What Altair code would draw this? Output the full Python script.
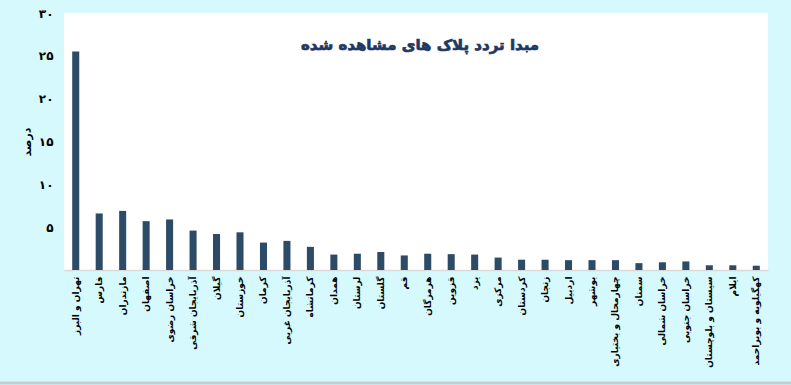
import altair as alt
import pandas as pd

provinces = [
    "تهران و البرز", "فارس", "مازندران", "اصفهان", "خراسان رضوی",
    "آذربایجان شرقی", "گیلان", "خوزستان", "کرمان", "آذربایجان غربی",
    "کرمانشاه", "همدان", "لرستان", "گلستان", "قم",
    "هرمزگان", "قزوین", "یزد", "مرکزی", "کردستان",
    "زنجان", "اردبیل", "بوشهر", "چهارمحال و بختیاری", "سمنان",
    "خراسان شمالی", "خراسان جنوبی", "سیستان و بلوچستان", "ایلام", "کهگیلویه و بویراحمد",
]
values = [
    25.5, 6.6, 6.9, 5.7, 5.9,
    4.6, 4.2, 4.4, 3.2, 3.4,
    2.7, 1.8, 1.9, 2.1, 1.7,
    1.9, 1.85, 1.8, 1.45, 1.2,
    1.2, 1.15, 1.15, 1.15, 0.8,
    0.9, 1.0, 0.55, 0.55, 0.5,
]
y_ticks = [0, 5, 10, 15, 20, 25, 30]
y_tick_labels = ["", "۵", "۱۰", "۱۵", "۲۰", "۲۵", "۳۰"]
title_text = "مبدا تردد پلاک های مشاهده شده"
y_title = "درصد"

df = pd.DataFrame({"province": provinces, "value": values})

label_expr = " : ".join(
    f"datum.value == {v} ? '{l}'" for v, l in zip(y_ticks, y_tick_labels)
) + " : ''"

FONT = "DejaVu Sans"
W, H = 704, 257

bars = alt.Chart(df).mark_bar(color="#2C4B66").encode(
    x=alt.X(
        "province:N",
        sort=None,
        scale=alt.Scale(paddingInner=0.7, paddingOuter=0.35),
        axis=alt.Axis(
            title=None,
            labelAngle=270,
            labelFont=FONT,
            labelFontWeight="bold",
            labelFontSize=9,
            labelColor="#000000",
            labelPadding=6,
            ticks=False,
            domainColor="#D9D9D9",
            domainWidth=1.5,
            labelOverlap=False,
            labelLimit=200,
        ),
    ),
    y=alt.Y(
        "value:Q",
        scale=alt.Scale(domain=[0, 30], nice=False),
        axis=alt.Axis(
            values=y_ticks,
            labelExpr=label_expr,
            title=y_title,
            titleFont=FONT,
            titleFontWeight="bold",
            titleFontSize=11,
            titleColor="#000000",
            titlePadding=6,
            grid=False,
            domain=False,
            ticks=False,
            labelPadding=11,
            labelFont=FONT,
            labelFontWeight="bold",
            labelFontSize=12,
            labelColor="#000000",
        ),
    ),
)

title = alt.Chart(pd.DataFrame({"t": [title_text]})).mark_text(
    font=FONT, fontWeight="bold", fontSize=15, color="#1F3864",
    stroke="#1F3864", strokeWidth=0.7,
).encode(x=alt.value(356), y=alt.value(32), text="t:N")

frame_line = alt.Chart(pd.DataFrame({"t": [0]})).mark_rule(
    color="#C5CDD1", strokeWidth=3
).encode(x=alt.value(-64), x2=alt.value(W + 23), y=alt.value(H + 113))

chart = (
    alt.layer(bars, title, frame_line)
    .properties(
        width=W,
        height=H,
        padding={"left": 64, "top": 13, "right": 23, "bottom": 115},
        autosize="none",
        background="#D6F9FD",
    )
    .configure_view(fill="white", strokeWidth=0)
)

chart.save("out.html", embed_options={"renderer": "svg", "actions": False})
